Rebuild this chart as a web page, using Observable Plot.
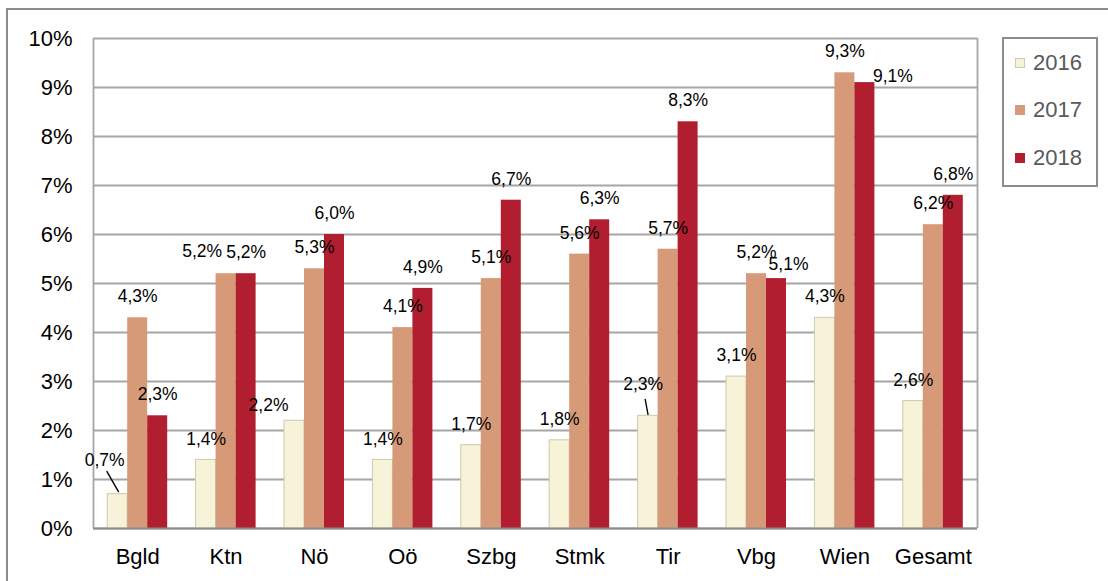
<!DOCTYPE html>
<html>
<head>
<meta charset="utf-8">
<script src="https://cdn.jsdelivr.net/npm/d3@7"></script>
<script src="https://cdn.jsdelivr.net/npm/@observablehq/plot@0.6"></script>
<style>
  html, body { margin: 0; padding: 0; background: #fff; overflow: hidden; }
  #wrap { position: relative; width: 1108px; height: 581px; font-family: "Liberation Sans", Arial, sans-serif; }
  #outer { position: absolute; left: 6px; top: 8px; width: 1200px; height: 700px; border: 2px solid #8c8c8c; box-sizing: border-box; }
  #chart { position: absolute; left: 0; top: 0; }
  #legend { position: absolute; left: 1002px; top: 37px; width: 96px; height: 150px; border: 2px solid #8c8c8c; box-sizing: border-box; background: #fff; }
  .sw { position: absolute; width: 10px; height: 10px; box-sizing: border-box; }
  .lt { position: absolute; font-size: 22px; line-height: 22px; color: #595959; }
</style>
</head>
<body>
<div id="wrap">
  <div id="outer"></div>
  <div id="chart"></div>
  <div id="legend"></div>
</div>
<script>
// ---- data ----
const categories = ["Bgld", "Ktn", "Nö", "Oö", "Szbg", "Stmk", "Tir", "Vbg", "Wien", "Gesamt"];
const years = ["2016", "2017", "2018"];
const values2016 = [0.7, 1.4, 2.2, 1.4, 1.7, 1.8, 2.3, 3.1, 4.3, 2.6];
const values2017 = [4.3, 5.2, 5.3, 4.1, 5.1, 5.6, 5.7, 5.2, 9.3, 6.2];
const values2018 = [2.3, 5.2, 6.0, 4.9, 6.7, 6.3, 8.3, 5.1, 9.1, 6.8];
const yTicks = [0, 1, 2, 3, 4, 5, 6, 7, 8, 9, 10];

// ---- styles ----
const colors = ["#F6F3D9", "#D79A78", "#B11E2F"];
const strokes = ["#cdc9ab", "none", "none"];
const width = 1108, height = 581;
const margins = {left: 93, right: 131, top: 38, bottom: 53};
const pxPerX = (width - margins.left - margins.right) / categories.length;
const pxPerY = (height - margins.top - margins.bottom) / 10;
const barW = 20 / pxPerX;

// label tweaks (pixel offsets for individual labels)
const labelTweaks = [
  {c: "Bgld", y: "2016", dx: -13, dy: -34},
  {c: "Ktn", y: "2017", dx: -24, dy: -22},
  {c: "Nö", y: "2016", dx: -26, dy: -15},
  {c: "Tir", y: "2016", dx: -5, dy: -31},
  {c: "Vbg", y: "2018", dx: 12, dy: -14},
  {c: "Wien", y: "2018", dx: 28, dy: -6}
];
// leader lines (pixel offsets from bar top centre)
const leaders = [
  {c: "Bgld", y: "2016", from: [1, -2], to: [-11, -23]},
  {c: "Tir", y: "2016", from: [0, -1], to: [-3, -17]}
];

const series = [values2016, values2017, values2018];
const rows = categories.flatMap((c, i) => years.map((yr, k) => ({c, i, year: yr, k, value: series[k][i]})));
const cx = d => d.i + (d.k - 1) * barW;
const fmt = d => d.value.toFixed(1).replace(".", ",") + "%";
const tweakKey = t => t.c + "|" + t.y;
const tweaked = new Set(labelTweaks.map(tweakKey));
const rowOf = (c, y) => rows.find(r => r.c === c && r.year === y);

const labelFont = {fontSize: 17.5, fill: "#000", lineAnchor: "middle"};

const marks = [
  Plot.gridY(yTicks, {stroke: "#a6a6a6", strokeOpacity: 1, strokeWidth: 1.8}),
  Plot.ruleX([-0.5, 9.5], {stroke: "#a6a6a6", strokeWidth: 1.8}),
  ...years.map((yr, k) => Plot.rectY(rows.filter(r => r.k === k), {
    x1: d => cx(d) - barW / 2,
    x2: d => cx(d) + barW / 2,
    y1: 0,
    y2: "value",
    fill: colors[k],
    stroke: strokes[k],
    strokeWidth: 1
  })),
  Plot.ruleY([0], {stroke: "#8c8c8c", strokeWidth: 2}),
  Plot.text(rows.filter(r => !tweaked.has(r.c + "|" + r.year)), {
    x: cx, y: "value", text: fmt, dy: -21, ...labelFont
  }),
  ...labelTweaks.map(t => Plot.text([rowOf(t.c, t.y)], {
    x: cx, y: "value", text: fmt, dx: t.dx, dy: t.dy, ...labelFont
  })),
  Plot.link(leaders, {
    x1: l => cx(rowOf(l.c, l.y)) + l.from[0] / pxPerX,
    y1: l => rowOf(l.c, l.y).value - l.from[1] / pxPerY,
    x2: l => cx(rowOf(l.c, l.y)) + l.to[0] / pxPerX,
    y2: l => rowOf(l.c, l.y).value - l.to[1] / pxPerY,
    stroke: "#000",
    strokeWidth: 1.4
  }),
  Plot.axisY(yTicks, {tickSize: 0, tickPadding: 21, fontSize: 22, tickFormat: d => d + "%", fill: "#000", label: null}),
  Plot.axisX(d3.range(categories.length), {tickSize: 0, tickPadding: 20, fontSize: 22, tickFormat: i => categories[i], fill: "#000", label: null})
];

const chart = Plot.plot({
  width, height,
  marginLeft: margins.left, marginRight: margins.right,
  marginTop: margins.top, marginBottom: margins.bottom,
  style: {fontFamily: "'Liberation Sans', Arial, sans-serif", background: "transparent", color: "#000"},
  x: {type: "linear", domain: [-0.5, categories.length - 0.5], label: null},
  y: {domain: [0, 10], label: null},
  marks
});
document.getElementById("chart").appendChild(chart);

// legend
const legend = document.getElementById("legend");
const legendCentres = [63, 110, 158];
years.forEach((yr, k) => {
  const sw = document.createElement("div");
  sw.className = "sw";
  sw.style.left = (1015 - 1004) + "px";
  sw.style.top = (legendCentres[k] - 5 - 39) + "px";
  sw.style.background = colors[k];
  if (strokes[k] !== "none") sw.style.border = "1px solid " + strokes[k];
  legend.appendChild(sw);
  const t = document.createElement("div");
  t.className = "lt";
  t.style.left = (1033 - 1004) + "px";
  t.style.top = (legendCentres[k] - 10.7 - 39) + "px";
  t.textContent = yr;
  legend.appendChild(t);
});
</script>
</body>
</html>
